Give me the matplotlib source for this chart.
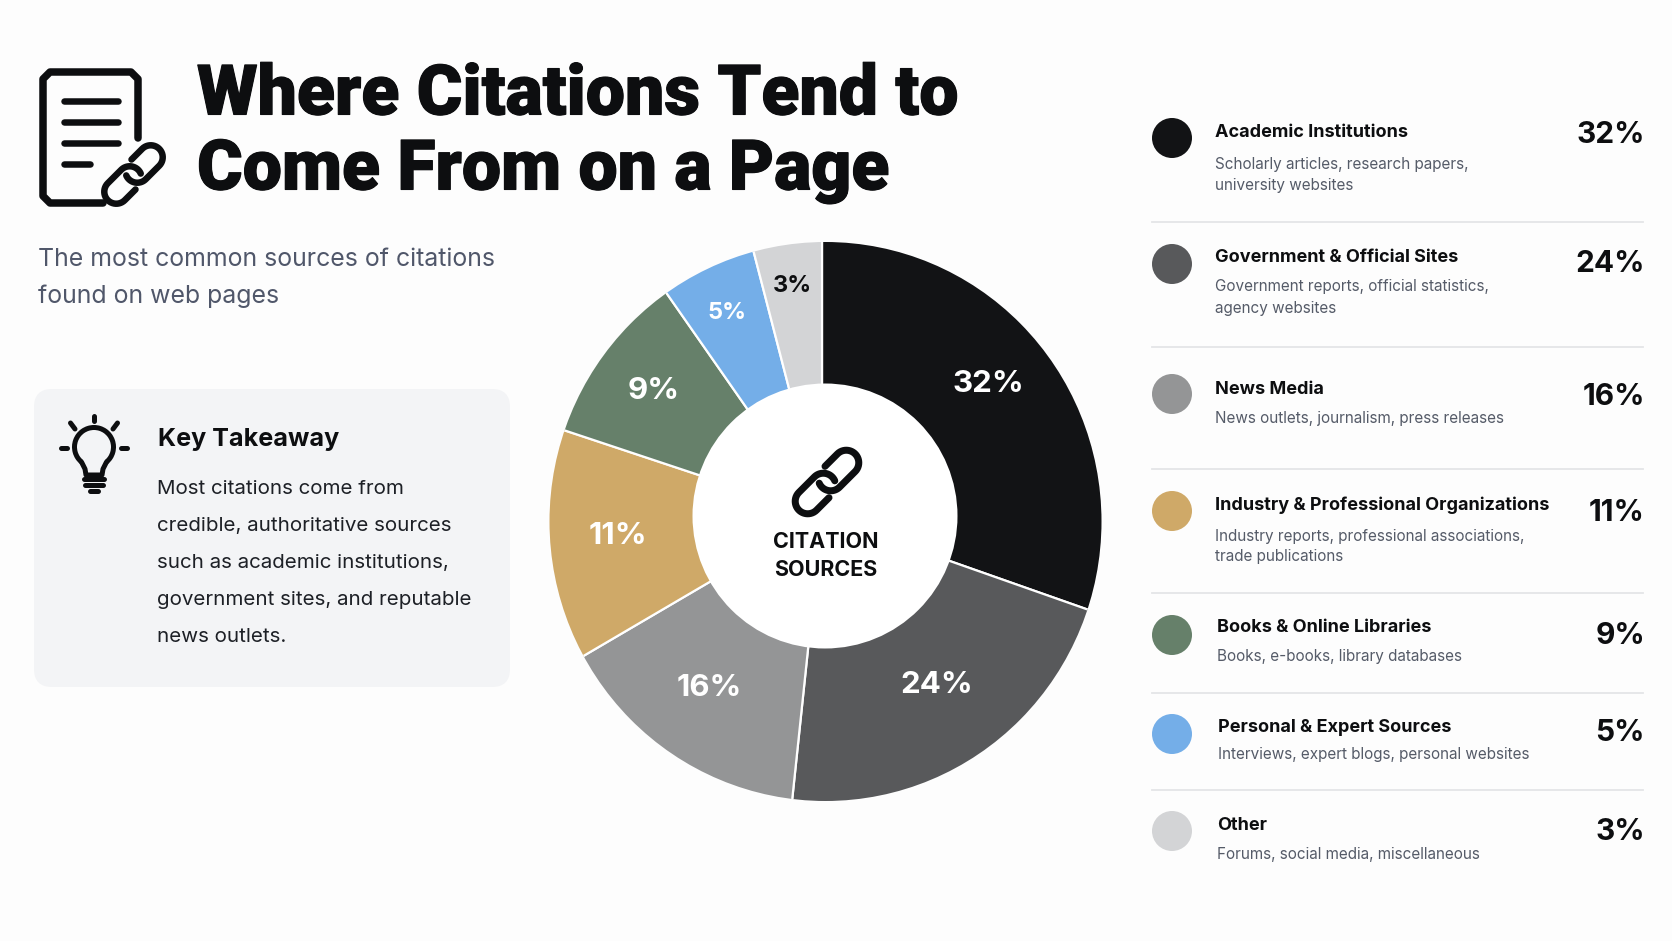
import numpy as np
import matplotlib
matplotlib.use('Agg')
import matplotlib.pyplot as plt
import matplotlib.patheffects as pe
from matplotlib.patches import FancyBboxPatch, Circle, Arc, Ellipse

W, H = 1672, 941
FONT = ['Inter', 'Noto Sans', 'DejaVu Sans']
TITLE_FONT = ['Roboto', 'Inter', 'DejaVu Sans']
INK = '#0d0e10'

title_lines = ['Where Citations Tend to', 'Come From on a Page']
subtitle_lines = ['The most common sources of citations', 'found on web pages']
takeaway_lines = ['Most citations come from', 'credible, authoritative sources',
                  'such as academic institutions,', 'government sites, and reputable',
                  'news outlets.']

names = ['Academic Institutions', 'Government & Official Sites', 'News Media',
         'Industry & Professional Organizations', 'Books & Online Libraries',
         'Personal & Expert Sources', 'Other']
details = [['Scholarly articles, research papers,', 'university websites'],
           ['Government reports, official statistics,', 'agency websites'],
           ['News outlets, journalism, press releases'],
           ['Industry reports, professional associations,', 'trade publications'],
           ['Books, e-books, library databases'],
           ['Interviews, expert blogs, personal websites'],
           ['Forums, social media, miscellaneous']]
percents = [32, 24, 16, 11, 9, 5, 3]
# the slices in the picture are not drawn true to their labels, so these are
# the sweeps measured off the ring, in degrees
sweeps = [109.4, 76.6, 53.6, 48.8, 36.7, 20.4, 14.5]
colors = ['#121315', '#58595b', '#949596', '#cfa968', '#66806a', '#74aee8', '#d3d4d6']

label_xy = [(988, 384), (937, 685), (709, 688), (618, 536), (654, 391), (727, 313), (792, 286)]
label_colors = ['white'] * 6 + [INK]

circle_y = [138, 264, 394, 511, 635, 734, 831]
name_x = [1215, 1215, 1215, 1215, 1217, 1218, 1217]
name_y = [132, 257, 390, 505, 628, 728, 826]
detail_y = [[164, 185], [287, 308], [419], [536, 556], [657], [755], [855]]
pct_y = [135, 264, 397, 513, 636, 733, 832]
rule_y = [222, 347, 469, 593, 693, 790]

fig = plt.figure(figsize=(W / 100, H / 100), dpi=100, facecolor='#fdfdfd')

# donut: the slices fan out from the hole, the rim sits a little off that centre
cx, cy, box = 822, 516, 300
pie_ax = fig.add_axes([(cx - box) / W, 1 - (cy + box) / H, 2 * box / W, 2 * box / H])
wedges, _ = pie_ax.pie(sweeps, colors=colors, startangle=90, counterclock=False, radius=1,
                       wedgeprops=dict(edgecolor='white', linewidth=1.6))
pie_ax.set_xlim(-1, 1)
pie_ax.set_ylim(-1, 1)
rim = Ellipse(((825.5 - cx) / box, (cy - 521.5) / box), 2 * 276 / box, 2 * 279.5 / box,
              transform=pie_ax.transData)
for w in wedges:
    w.set_clip_path(rim)
    w.set_clip_on(True)

# everything else in pixel coordinates
ax = fig.add_axes([0, 0, 1, 1])
ax.set_xlim(0, W)
ax.set_ylim(H, 0)
ax.axis('off')
ax.add_patch(Circle((825, 516), 132.5, fc='white', ec='none'))


def px(v):
    return v * 0.72


def put(x, y, s, size, color=INK, weight='normal', ha='left', family=FONT, thicken=0):
    t = ax.text(x, y, s, fontsize=size, color=color, fontweight=weight, ha=ha,
                va='center', family=family)
    if thicken:
        t.set_path_effects([pe.withStroke(linewidth=thicken, foreground=color)])


def stroke(xs, ys, w, color=INK):
    ax.plot(xs, ys, color=color, lw=px(w), solid_capstyle='round',
            solid_joinstyle='round')


def link(mx, my, half, rad, w, sign):
    # one open link of a chain, leaning 45 degrees, open on its inner side
    a = np.deg2rad(np.linspace(180, 0, 24))
    top = np.c_[rad * np.cos(a), half + rad * np.sin(a)]
    b = np.deg2rad(np.linspace(0, -112, 20))
    bot = np.c_[rad * np.cos(b), -half + rad * np.sin(b)]
    pts = np.vstack([[[-rad, -half * 0.6]], top, bot])
    c = np.cos(np.pi / 4)
    xs = (pts[:, 0] + pts[:, 1]) * c * sign
    ys = (pts[:, 1] - pts[:, 0]) * c * sign
    stroke(mx + xs, my - ys, w)


def chain(mx, my, half, rad, w, d):
    link(mx + d, my - d, half, rad, w, 1)
    link(mx - d, my + d, half, rad, w, -1)


# document icon
stroke([103, 50, 43, 43, 50, 131, 138, 138], [203, 203, 196, 79, 72, 72, 79, 138], 7.5)
for ly, lx in zip([101, 122, 143, 164], [118, 118, 118, 90]):
    stroke([64, lx], [ly, ly], 6.5)
chain(133.5, 174.5, 9.5, 12, 6.5, 10.5)

# title and subtitle
for y, s in zip([95, 170], title_lines):
    put(197, y, s, 50.2, weight=900, family=TITLE_FONT, thicken=0.8)
for y, s in zip([260, 296], subtitle_lines):
    put(38, y, s, 17.9, color='#50576a')

# key takeaway card
ax.add_patch(FancyBboxPatch((52, 407), 440, 262, boxstyle='round,pad=18,rounding_size=18',
                            fc='#f3f4f6', ec='none'))
put(158, 439, 'Key Takeaway', 18.1, weight='bold')
for y, s in zip([489, 526, 563, 600, 637], takeaway_lines):
    put(157, y, s, 14.8, color='#1d2026')

# bulb icon
ax.add_patch(Arc((94, 447), 39, 39, theta1=130, theta2=50, color=INK, lw=px(5)))
stroke([81.5, 85, 86, 102, 103, 106.5], [462, 469, 475, 475, 469, 462], 5)
stroke([84, 104], [479, 479], 5)
stroke([85, 103], [485, 485], 5)
stroke([90, 98], [491, 491], 5)
stroke([94, 94], [416, 421], 5)
stroke([70.5, 75], [423, 429], 5)
stroke([117.5, 113], [423, 429], 5)
stroke([61, 67], [447.5, 447.5], 5)
stroke([121, 127], [447.5, 447.5], 5)

# labels on the ring
for (x, y), p, c in zip(label_xy, percents, label_colors):
    put(x, y, f'{p}%', 22.5 if p > 5 else 17, color=c, weight='bold', ha='center')
chain(827, 482, 11, 12.5, 7, 11.5)
put(826, 542, 'CITATION', 15.5, weight='bold', ha='center')
put(826, 570, 'SOURCES', 15.5, weight='bold', ha='center')

# legend column
for i in range(len(names)):
    ax.add_patch(Circle((1172, circle_y[i]), 20, fc=colors[i], ec='none'))
    put(name_x[i], name_y[i], names[i], 13, weight='bold')
    for y, s in zip(detail_y[i], details[i]):
        put(name_x[i], y, s, 11, color='#555b68')
    put(1645, pct_y[i], f'{percents[i]}%', 21.5, weight='bold', ha='right')
for y in rule_y:
    ax.plot([1152, 1643], [y, y], color='#e4e5e7', lw=1.3)

fig.savefig('out.png', dpi=100, facecolor=fig.get_facecolor())
